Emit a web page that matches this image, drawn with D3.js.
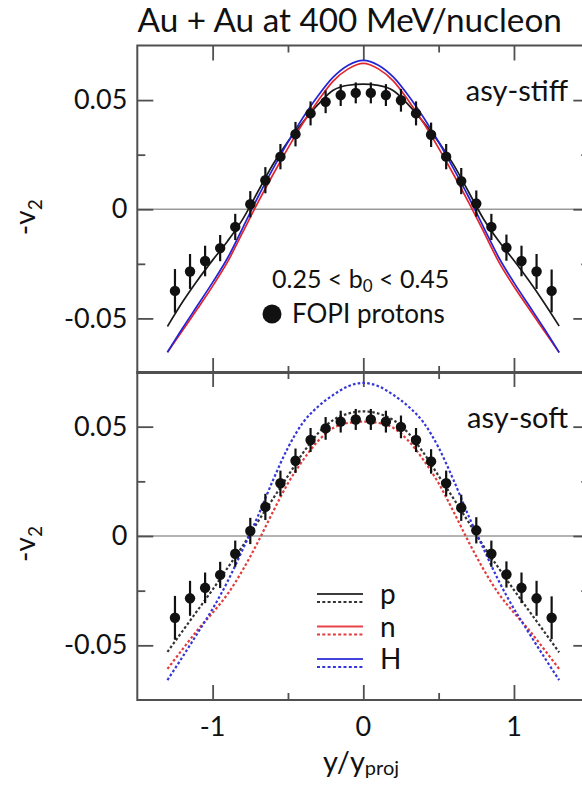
<!DOCTYPE html>
<html><head><meta charset="utf-8">
<script src="https://cdn.jsdelivr.net/npm/d3@7"></script>
<style>
html,body{margin:0;padding:0;background:#fff;}
svg{display:block;font-family:Lato,"Open Sans",sans-serif;}
</style></head>
<body><svg id="c" width="582" height="787"></svg>
<script>
// ---------- data ----------
const gridX = [-1.3,-1.2,-1.1,-1.0,-0.9,-0.8,-0.7,-0.6,-0.5,-0.4,-0.3,-0.2,-0.1,0,0.1,0.2,0.3,0.4,0.5,0.6,0.7,0.8,0.9,1.0,1.1,1.2,1.3];
// asy-stiff (solid)
const pStiff = [-0.0537,-0.0425,-0.0325,-0.0233,-0.0145,-0.0045,0.0080,0.0205,0.0310,0.0400,0.0480,0.0545,0.0568,0.0573,0.0567,0.0543,0.0478,0.0398,0.0308,0.0203,0.0078,-0.0047,-0.0147,-0.0235,-0.0328,-0.0428,-0.0535];
const nStiff = [-0.0655,-0.0555,-0.0455,-0.0352,-0.0240,-0.0105,0.0030,0.0158,0.0280,0.0395,0.0497,0.0587,0.0643,0.0668,0.0643,0.0587,0.0497,0.0395,0.0280,0.0158,0.0030,-0.0105,-0.0242,-0.0354,-0.0456,-0.0556,-0.0656];
const hStiff = [-0.0655,-0.0545,-0.0440,-0.0335,-0.0222,-0.0085,0.0055,0.0185,0.0308,0.0420,0.0520,0.0605,0.0660,0.0682,0.0660,0.0605,0.0520,0.0420,0.0308,0.0185,0.0055,-0.0085,-0.0222,-0.0336,-0.0441,-0.0546,-0.0656];
// asy-soft (dotted)
const pSoft = [-0.0530,-0.0435,-0.0340,-0.0245,-0.0145,-0.0045,0.0065,0.0170,0.0275,0.0380,0.0470,0.0530,0.0560,0.0570,0.0560,0.0530,0.0470,0.0380,0.0275,0.0170,0.0062,-0.0048,-0.0148,-0.0247,-0.0342,-0.0437,-0.0532];
const nSoft = [-0.0608,-0.0518,-0.0430,-0.0351,-0.0265,-0.0155,-0.0028,0.0110,0.0241,0.0347,0.0435,0.0494,0.0517,0.0523,0.0517,0.0494,0.0435,0.0347,0.0241,0.0110,-0.0028,-0.0155,-0.0265,-0.0351,-0.0430,-0.0518,-0.0608];
const hSoft = [-0.0659,-0.0553,-0.0444,-0.0333,-0.0207,-0.0061,0.0090,0.0254,0.0404,0.0519,0.0592,0.0645,0.0685,0.0700,0.0685,0.0645,0.0592,0.0519,0.0404,0.0254,0.0090,-0.0061,-0.0207,-0.0333,-0.0444,-0.0553,-0.0659];
// FOPI protons
const fopiX = [-1.25,-1.15,-1.05,-0.95,-0.85,-0.75,-0.65,-0.55,-0.45,-0.35,-0.25,-0.15,-0.05,0.05,0.15,0.25,0.35,0.45,0.55,0.65,0.75,0.85,0.95,1.05,1.15,1.25];
const fopiV = [-0.0374,-0.0285,-0.0237,-0.0178,-0.0081,0.0023,0.0133,0.0241,0.0344,0.0439,0.0492,0.0523,0.0533,0.0533,0.0523,0.0499,0.0439,0.0341,0.0241,0.0129,0.0026,-0.0081,-0.0176,-0.0237,-0.0285,-0.0374];
const fopiE = [0.0100,0.0080,0.0070,0.0060,0.0060,0.0060,0.0060,0.0058,0.0056,0.0055,0.0052,0.0050,0.0048,0.0048,0.0050,0.0052,0.0055,0.0056,0.0058,0.0060,0.0060,0.0060,0.0060,0.0070,0.0080,0.0098];
// ticks
const xMajor = [-1,0,1];
const xMinor = [-0.5,0.5];
const yMajor = [-0.05,0,0.05];
const yMinor = [-0.025,0.025];
const legendLabels = ["p","n","H"];
const title = "Au + Au at 400 MeV/nucleon";

// ---------- drawing ----------
const svg = d3.select("#c");
svg.append("rect").attr("width",582).attr("height",787).attr("fill","#fff");
const x = d3.scaleLinear().domain([-1.5,1.5]).range([137.3,589.3]);
const yTop = d3.scaleLinear().domain([-0.075,0.075]).range([373,45.5]);
const yBot = d3.scaleLinear().domain([-0.075,0.075]).range([700,372]);
const colors = {p:"#1a1a1a", n:"#e3242b", H:"#2424d6"};
const dotColors = {p:"#333", n:"#e23b3b", H:"#3535d8"};
const frameColor = "#505050";

function panel(y, curves, dotted){
  const [y0,y1] = y.range();
  svg.append("line").attr("x1",x(-1.5)).attr("x2",x(1.5)).attr("y1",y(0)).attr("y2",y(0))
     .attr("stroke","#9a9a9a").attr("stroke-width",1.3);
  const addAxis = (axisFn, vals, size, tx, ty, labels) => {
    const g = svg.append("g").attr("transform",`translate(${tx},${ty})`)
      .call(axisFn.tickValues(vals).tickSize(size).tickSizeOuter(0).tickPadding(10)
        .tickFormat(labels ? labels : ""));
    g.select(".domain").remove();
    g.selectAll(".tick line").attr("stroke",frameColor).attr("stroke-width",1.8);
    return g;
  };
  addAxis(d3.axisLeft(y), yMajor, -16, x(-1.5), 0, d => d===0?"0":d.toFixed(2))
    .selectAll("text").attr("font-size",27).attr("fill","#111").attr("font-family","Lato");
  addAxis(d3.axisLeft(y), yMinor, -8, x(-1.5), 0, null);
  addAxis(d3.axisRight(y), yMajor, -16, x(1.5), 0, null);
  addAxis(d3.axisRight(y), yMinor, -8, x(1.5), 0, null);
  addAxis(d3.axisTop(x), xMajor, -15, 0, y1, null);
  addAxis(d3.axisTop(x), xMinor, -7, 0, y1, null);
  addAxis(d3.axisBottom(x), xMajor, -15, 0, y0, null);
  addAxis(d3.axisBottom(x), xMinor, -7, 0, y0, null);
  svg.append("rect").attr("x",x(-1.5)).attr("y",y1).attr("width",x(1.5)-x(-1.5)).attr("height",y0-y1)
     .attr("fill","none").attr("stroke",frameColor).attr("stroke-width",2);
  const line = d3.line().x((d,i)=>x(gridX[i])).y(d=>y(d)).curve(d3.curveMonotoneX);
  curves.forEach(c=>{
    const p = svg.append("path").attr("d",line(c.v)).attr("fill","none")
      .attr("stroke", dotted?dotColors[c.k]:colors[c.k]).attr("stroke-width", dotted?2.2:1.7);
    if(dotted) p.attr("stroke-dasharray","2.6,2.2");
  });
  const g = svg.append("g");
  fopiX.forEach((xv,i)=>{
    g.append("line").attr("x1",x(xv)).attr("x2",x(xv))
      .attr("y1",y(fopiV[i]-fopiE[i])).attr("y2",y(fopiV[i]+fopiE[i]))
      .attr("stroke","#111").attr("stroke-width",2.2);
    g.append("circle").attr("cx",x(xv)).attr("cy",y(fopiV[i])).attr("r",5.2).attr("fill","#111");
  });
  const t = svg.append("text").attr("transform",`translate(35,${y(0)+8}) rotate(-90)`)
    .attr("text-anchor","middle").attr("font-size",28).attr("fill","#111");
  t.append("tspan").text("-v");
  t.append("tspan").attr("font-size",19).attr("dy",7).text("2");
}

panel(yTop, [{k:"p",v:pStiff},{k:"n",v:nStiff},{k:"H",v:hStiff}], false);
panel(yBot, [{k:"p",v:pSoft},{k:"n",v:nSoft},{k:"H",v:hSoft}], true);

xMajor.forEach(v=>{
  svg.append("text").attr("x",x(v)).attr("y",736).attr("text-anchor","middle")
    .attr("font-size",27).attr("fill","#111").text(v===0?"0":String(v));
});
const xt = svg.append("text").attr("x",361).attr("y",772).attr("text-anchor","middle")
  .attr("font-size",29).attr("fill","#111");
xt.append("tspan").text("y/y");
xt.append("tspan").attr("font-size",20).attr("dy",3).text("proj");

svg.append("text").attr("x",137.5).attr("y",32).attr("font-size",33.3).attr("fill","#111").text(title);

svg.append("text").attr("x",568).attr("y",101).attr("text-anchor","end").attr("font-size",29).attr("fill","#111").text("asy-stiff");
svg.append("text").attr("x",568).attr("y",428).attr("text-anchor","end").attr("font-size",29).attr("fill","#111").text("asy-soft");

const ct = svg.append("text").attr("x",272).attr("y",288).attr("font-size",25).attr("fill","#111");
ct.append("tspan").text("0.25 < b");
ct.append("tspan").attr("font-size",17).attr("dy",4).text("0");
ct.append("tspan").attr("dy",-4).text(" < 0.45");
svg.append("circle").attr("cx",272).attr("cy",314).attr("r",9.5).attr("fill","#111");
svg.append("text").attr("x",292).attr("y",323).attr("font-size",26).attr("fill","#111").text("FOPI protons");

legendLabels.forEach((lab,i)=>{
  const yy = 594 + i*32.5;
  svg.append("line").attr("x1",317).attr("x2",363).attr("y1",yy).attr("y2",yy)
    .attr("stroke",colors[lab]).attr("stroke-width",2).attr("opacity",0.85);
  svg.append("line").attr("x1",317).attr("x2",363).attr("y1",yy+8).attr("y2",yy+8)
    .attr("stroke",dotColors[lab]).attr("stroke-width",2.2).attr("stroke-dasharray","3,2.3");
  svg.append("text").attr("x",380).attr("y",yy+10).attr("font-size",28).attr("fill","#111").text(lab);
});
</script></body></html>
